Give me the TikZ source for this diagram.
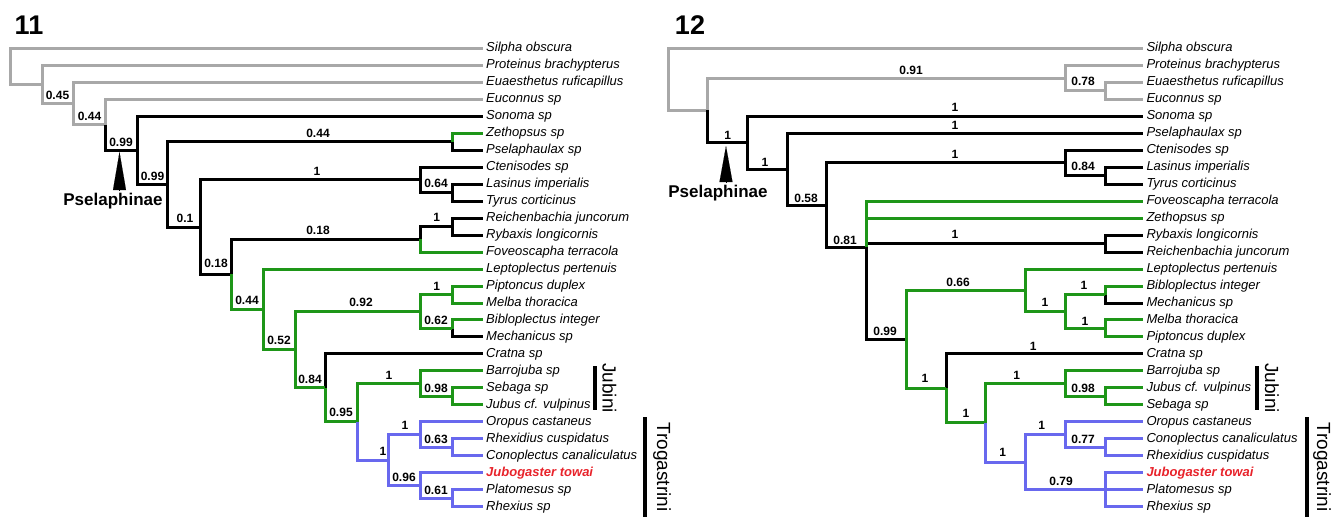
\documentclass[tikz,border=0pt]{standalone}
\usepackage{fontspec}
\setmainfont{Liberation Sans}
\usetikzlibrary{arrows.meta}
\definecolor{outgrey}{HTML}{A8A8A8}
\definecolor{jubgreen}{HTML}{1E9618}
\definecolor{trogblue}{HTML}{6868EE}
\definecolor{typered}{HTML}{E8232B}

\begin{document}
\begin{tikzpicture}[x=1pt, y=-1pt,
        tip/.style={anchor=west, inner xsep=3pt, inner ysep=0pt, text height=9.5pt, text depth=2.5pt, font=\fontsize{13}{13}\selectfont\itshape},
        redtip/.style={tip, text=typered, font=\fontsize{13}{13}\selectfont\bfseries\itshape},
        supp/.style={inner sep=0pt, font=\fontsize{12}{12}\selectfont\bfseries},
        branch/.style={line width=3pt, line join=miter},
        gbr/.style={branch, draw=outgrey},
        kbr/.style={branch, draw=black},
        ebr/.style={branch, draw=jubgreen},
        bbr/.style={branch, draw=trogblue},
        tribe/.style={rotate=-90, inner sep=0pt, font=\fontsize{19}{19}\selectfont},
        bar/.style={line width=4pt},
        marker/.style={-{Triangle[length=#1, width=13pt]}, line width=0.1pt},
        panel/.style={inner sep=0pt, font=\fontsize{27}{27}\selectfont\bfseries},
        subfam/.style={inner sep=0pt, font=\fontsize{17}{17}\selectfont\bfseries}]

    \useasboundingbox (0,0) rectangle (1339,531);

    % figure 11
    \node (fig11) [panel] at (29, 25) {11};
    \foreach \n/\s [count=\i from 0] in {Silpha obscura/tip, Proteinus brachypterus/tip, Euaesthetus ruficapillus/tip, Euconnus sp/tip,
            Sonoma sp/tip, Zethopsus sp/tip, Pselaphaulax sp/tip, Ctenisodes sp/tip, Lasinus imperialis/tip, Tyrus corticinus/tip,
            Reichenbachia juncorum/tip, Rybaxis longicornis/tip, Foveoscapha terracola/tip, Leptoplectus pertenuis/tip,
            Piptoncus duplex/tip, Melba thoracica/tip, Bibloplectus integer/tip, Mechanicus sp/tip, Cratna sp/tip,
            Barrojuba sp/tip, Sebaga sp/tip, Jubus cf. vulpinus/tip, Oropus castaneus/tip, Rhexidius cuspidatus/tip,
            Conoplectus canaliculatus/tip, Jubogaster towai/redtip, Platomesus sp/tip, Rhexius sp/tip}
        \node (L\i) [\s] at (483, {48.3+16.98*\i}) {\n};

    \coordinate (root11) at (10, 66.35);
    \coordinate (a11) at (42, 84.4);
    \coordinate (b11) at (73, 103.5);
    \coordinate (c11) at (105, 124.75);
    \coordinate (d11) at (137, 150.3);
    \coordinate (e11) at (167, 184.4);
    \coordinate (f11) at (452, 141.7);
    \coordinate (g11) at (200, 227.1);
    \coordinate (i11) at (420, 179.9);
    \coordinate (j11) at (452, 192.6);
    \coordinate (h11) at (231, 274.35);
    \coordinate (k11) at (420, 239.35);
    \coordinate (m11) at (452, 226.6);
    \coordinate (l11) at (263, 309.35);
    \coordinate (n11) at (295, 349.7);
    \coordinate (o11) at (420, 311.5);
    \coordinate (q11) at (452, 294.5);
    \coordinate (r11) at (452, 328.5);
    \coordinate (p11) at (325, 387.9);
    \coordinate (s11) at (357, 421.9);
    \coordinate (t11) at (420, 383.65);
    \coordinate (u11) at (452, 396.4);
    \coordinate (v11) at (388, 460.1);
    \coordinate (w11) at (420, 434.6);
    \coordinate (y11) at (452, 447.3);
    \coordinate (x11) at (420, 485.55);
    \coordinate (z11) at (452, 498.3);

    \draw [gbr] (root11) |- (L0.west) (root11) |- (a11) (a11) |- (L1.west) (a11) |- (b11)
        (b11) |- (L2.west) (b11) |- (c11) (c11) |- (L3.west);
    \draw [kbr] (c11) |- (d11) (d11) |- (L4.west) (d11) |- (e11) (e11) |- (f11) (f11) |- (L6.west)
        (e11) |- (g11) (g11) |- (i11) (i11) |- (L7.west) (i11) |- (j11) (j11) |- (L8.west) (j11) |- (L9.west)
        (g11) |- (h11) (h11) |- (k11) (k11) |- (m11) (m11) |- (L10.west) (m11) |- (L11.west)
        (r11) |- (L17.west) (p11) |- (L18.west);
    \draw [ebr] (f11) |- (L5.west) (k11) |- (L12.west) (h11) |- (l11) (l11) |- (L13.west) (l11) |- (n11)
        (n11) |- (o11) (o11) |- (q11) (q11) |- (L14.west) (q11) |- (L15.west) (o11) |- (r11) (r11) |- (L16.west)
        (n11) |- (p11) (p11) |- (s11) (s11) |- (t11) (t11) |- (L19.west) (t11) |- (u11)
        (u11) |- (L20.west) (u11) |- (L21.west);
    \draw [bbr] (s11) |- (v11) (v11) |- (w11) (w11) |- (L22.west) (w11) |- (y11) (y11) |- (L23.west)
        (y11) |- (L24.west) (v11) |- (x11) (x11) |- (L25.west) (x11) |- (z11) (z11) |- (L26.west) (z11) |- (L27.west);

    \node (s11a) [supp] at (57.5, 95) {0.45};
    \node (s11b) [supp] at (89.5, 116) {0.44};
    \node (s11c) [supp] at (121, 142.7) {0.99};
    \node (s11d) [supp] at (152.5, 176.7) {0.99};
    \node (s11f) [supp] at (318, 133.3) {0.44};
    \node (s11e) [supp] at (185, 218) {0.1};
    \node (s11i) [supp] at (317, 171) {1};
    \node (s11j) [supp] at (436, 183.3) {0.64};
    \node (s11g) [supp] at (216, 263) {0.18};
    \node (s11k) [supp] at (318, 230) {0.18};
    \node (s11m) [supp] at (436.7, 217.3) {1};
    \node (s11h) [supp] at (247, 300.7) {0.44};
    \node (s11l) [supp] at (279, 340.7) {0.52};
    \node (s11o) [supp] at (361, 302.7) {0.92};
    \node (s11q) [supp] at (436.7, 286) {1};
    \node (s11r) [supp] at (436, 320) {0.62};
    \node (s11n) [supp] at (310, 379) {0.84};
    \node (s11p) [supp] at (341, 412.3) {0.95};
    \node (s11t) [supp] at (389, 375.7) {1};
    \node (s11u) [supp] at (436, 388.3) {0.98};
    \node (s11s) [supp] at (383, 451.7) {1};
    \node (s11w) [supp] at (405, 425.7) {1};
    \node (s11y) [supp] at (436, 439) {0.63};
    \node (s11x) [supp] at (404, 477.3) {0.96};
    \node (s11z) [supp] at (436, 490) {0.61};

    \coordinate (apex11) at (119.5, 152);
    \coordinate (base11) at (119.5, 190);
    \draw [marker=38pt] (base11) -- (apex11);
    \node (psel11) [subfam] at (113, 201) {Pselaphinae};

    \draw [bar] (595, 366) coordinate (jtop11) -- (595, 410) coordinate (jbot11);
    \node (jub11) [tribe] at (609.5, 388) {Jubini};
    \draw [bar] (645, 417) coordinate (ttop11) -- (645, 517) coordinate (tbot11);
    \node (trog11) [tribe] at (662, 467) {Trogastrini};

    % figure 12
    \node (fig12) [panel] at (690, 25) {12};
    \foreach \n/\s [count=\i from 0] in {Silpha obscura/tip, Proteinus brachypterus/tip, Euaesthetus ruficapillus/tip, Euconnus sp/tip,
            Sonoma sp/tip, Pselaphaulax sp/tip, Ctenisodes sp/tip, Lasinus imperialis/tip, Tyrus corticinus/tip,
            Foveoscapha terracola/tip, Zethopsus sp/tip, Rybaxis longicornis/tip, Reichenbachia juncorum/tip,
            Leptoplectus pertenuis/tip, Bibloplectus integer/tip, Mechanicus sp/tip, Melba thoracica/tip, Piptoncus duplex/tip,
            Cratna sp/tip, Barrojuba sp/tip, Jubus cf. vulpinus/tip, Sebaga sp/tip, Oropus castaneus/tip,
            Conoplectus canaliculatus/tip, Rhexidius cuspidatus/tip, Jubogaster towai/redtip, Platomesus sp/tip, Rhexius sp/tip}
        \node (R\i) [\s] at (1143.3, {48.3+16.98*\i}) {\n};

    \coordinate (root12) at (668.3, 79.3);
    \coordinate (a12) at (707.7, 110.3);
    \coordinate (b12) at (1065, 78);
    \coordinate (c12) at (1105, 90.75);
    \coordinate (d12) at (747.3, 142.65);
    \coordinate (e12) at (787.7, 169.1);
    \coordinate (f12) at (826.7, 205);
    \coordinate (g12) at (1065, 162.95);
    \coordinate (h12) at (1105, 175.65);
    \coordinate (i12) at (866.7, 247);
    \coordinate (j12) at (1105, 243.6);
    \coordinate (k12) at (906.7, 339.3);
    \coordinate (l12) at (1025, 290.25);
    \coordinate (m12) at (1065, 311.5);
    \coordinate (n12) at (1105, 294.5);
    \coordinate (o12) at (1105, 328.5);
    \coordinate (p12) at (946, 388.4);
    \coordinate (q12) at (985, 422.9);
    \coordinate (r12) at (1065, 383.65);
    \coordinate (s12) at (1105, 396.4);
    \coordinate (t12) at (1025, 462.2);
    \coordinate (u12) at (1065, 434.6);
    \coordinate (v12) at (1105, 447.3);
    \coordinate (w12) at (1105, 489.8);

    \draw [gbr] (root12) |- (R0.west) (root12) |- (a12) (a12) |- (b12) (b12) |- (R1.west) (b12) |- (c12)
        (c12) |- (R2.west) (c12) |- (R3.west);
    \draw [kbr] (a12) |- (d12) (d12) |- (R4.west) (d12) |- (e12) (e12) |- (R5.west) (e12) |- (f12)
        (f12) |- (g12) (g12) |- (R6.west) (g12) |- (h12) (h12) |- (R7.west) (h12) |- (R8.west)
        (f12) |- (i12) (i12) |- (j12) (j12) |- (R11.west) (j12) |- (R12.west) (i12) |- (k12)
        (n12) |- (R15.west) (p12) |- (R18.west);
    \draw [ebr] (i12) |- (R9.west) (i12) |- (R10.west) (k12) |- (l12) (l12) |- (R13.west) (l12) |- (m12)
        (m12) |- (n12) (n12) |- (R14.west) (m12) |- (o12) (o12) |- (R16.west) (o12) |- (R17.west)
        (k12) |- (p12) (p12) |- (q12) (q12) |- (r12) (r12) |- (R19.west) (r12) |- (s12)
        (s12) |- (R20.west) (s12) |- (R21.west);
    \draw [bbr] (q12) |- (t12) (t12) |- (u12) (u12) |- (R22.west) (u12) |- (v12) (v12) |- (R23.west)
        (v12) |- (R24.west) (t12) |- (w12) (w12) |- (R25.west) (w12) |- (R26.west) (w12) |- (R27.west);

    \node (s12b) [supp] at (911, 70) {0.91};
    \node (s12c) [supp] at (1083, 81.7) {0.78};
    \node (s12d) [supp] at (727.7, 135) {1};
    \node (s12so) [supp] at (955, 107.3) {1};
    \node (s12ps) [supp] at (955, 125) {1};
    \node (s12e) [supp] at (765, 162.3) {1};
    \node (s12g) [supp] at (955, 154) {1};
    \node (s12h) [supp] at (1083, 166.7) {0.84};
    \node (s12f) [supp] at (806, 198.3) {0.58};
    \node (s12i) [supp] at (845, 240.5) {0.81};
    \node (s12j) [supp] at (955, 234) {1};
    \node (s12l) [supp] at (958, 282.7) {0.66};
    \node (s12k) [supp] at (885, 331.7) {0.99};
    \node (s12m) [supp] at (1045, 302.7) {1};
    \node (s12n) [supp] at (1084, 285) {1};
    \node (s12o) [supp] at (1085, 321) {1};
    \node (s12cr) [supp] at (1033.3, 346) {1};
    \node (s12p) [supp] at (925, 378.3) {1};
    \node (s12q) [supp] at (966, 413.3) {1};
    \node (s12r) [supp] at (1016.7, 375) {1};
    \node (s12s) [supp] at (1083, 388.3) {0.98};
    \node (s12t) [supp] at (1002.7, 452.7) {1};
    \node (s12u) [supp] at (1041.7, 425) {1};
    \node (s12v) [supp] at (1083, 439) {0.77};
    \node (s12w) [supp] at (1061, 481.7) {0.79};

    \coordinate (apex12) at (726, 146);
    \coordinate (base12) at (726, 182);
    \draw [marker=36pt] (base12) -- (apex12);
    \node (psel12) [subfam] at (718, 193) {Pselaphinae};

    \draw [bar] (1256.7, 366) coordinate (jtop12) -- (1256.7, 410) coordinate (jbot12);
    \node (jub12) [tribe] at (1272, 388) {Jubini};
    \draw [bar] (1306.7, 417) coordinate (ttop12) -- (1306.7, 517) coordinate (tbot12);
    \node (trog12) [tribe] at (1322, 467) {Trogastrini};
\end{tikzpicture}
\end{document}
